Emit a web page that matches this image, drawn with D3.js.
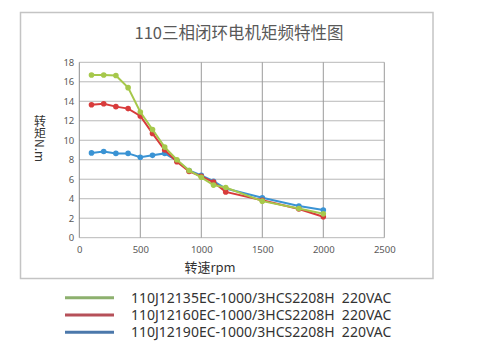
<!DOCTYPE html>
<html>
<head>
<meta charset="utf-8">
<script src="https://cdn.jsdelivr.net/npm/d3@7"></script>
<style>
  body { margin: 0; background: #fff; }
  svg { font-family: "Noto Sans CJK SC", "Noto Sans", sans-serif; }
</style>
</head>
<body>
<div id="chart"></div>
<script>
const speeds = [100, 200, 300, 400, 500, 600, 700, 800, 900, 1000, 1100, 1200, 1500, 1800, 2000];
const torque135 = [16.7, 16.7, 16.65, 15.4, 12.9, 11.1, 9.3, 8.0, 6.9, 6.2, 5.4, 5.15, 3.75, 3.0, 2.45];
const torque160 = [13.65, 13.75, 13.45, 13.25, 12.5, 10.7, 9.0, 7.8, 6.8, 6.3, 5.7, 4.7, 3.85, 2.95, 2.15];
const torque190 = [8.7, 8.85, 8.65, 8.65, 8.25, 8.45, 8.65, 7.9, 6.9, 6.4, 5.8, 5.05, 4.1, 3.25, 2.85];
const seriesNames = [
    '110J12135EC-1000/3HCS2208H  220VAC',
    '110J12160EC-1000/3HCS2208H  220VAC',
    '110J12190EC-1000/3HCS2208H  220VAC'
];
const xTicks = [0, 500, 1000, 1500, 2000, 2500];
const yTicks = [0, 2, 4, 6, 8, 10, 12, 14, 16, 18];

const series = [
    { name: seriesNames[0], values: torque135, color: '#a6c84b', legend: '#8db06e' },
    { name: seriesNames[1], values: torque160, color: '#d83b3b', legend: '#b65059' },
    { name: seriesNames[2], values: torque190, color: '#3a93d4', legend: '#4b78ab' }
];

const width = 497, height = 352;
const plot = { left: 79.3, right: 384.3, top: 62.3, bottom: 237.7 };

const svg = d3.select('#chart').append('svg')
    .attr('width', width)
    .attr('height', height);

// outer frame
svg.append('rect')
    .attr('x', 20.5).attr('y', 12.5)
    .attr('width', 412.5).attr('height', 266)
    .attr('fill', 'none')
    .attr('stroke', '#c4c4c4')
    .attr('stroke-width', 1.5);

svg.append('text')
    .attr('x', 239)
    .attr('y', 39)
    .attr('text-anchor', 'middle')
    .style('font-size', '16.5px')
    .attr('fill', '#595959')
    .text('110三相闭环电机矩频特性图');

const x = d3.scaleLinear().domain([0, 2500]).range([plot.left, plot.right]);
const y = d3.scaleLinear().domain([0, 18]).range([plot.bottom, plot.top]);

// grid
svg.append('g')
    .selectAll('line')
    .data(yTicks)
    .join('line')
    .attr('x1', plot.left).attr('x2', plot.right)
    .attr('y1', d => y(d)).attr('y2', d => y(d))
    .attr('stroke', '#b8b8b8')
    .attr('stroke-width', 1);

svg.append('g')
    .selectAll('line')
    .data(xTicks)
    .join('line')
    .attr('x1', d => x(d)).attr('x2', d => x(d))
    .attr('y1', plot.top).attr('y2', plot.bottom)
    .attr('stroke', d => d === 0 ? '#8c8c8c' : '#9a9a9a')
    .attr('stroke-width', 1);

svg.append('g')
    .attr('transform', `translate(0,${plot.bottom})`)
    .call(d3.axisBottom(x).tickValues(xTicks).tickFormat(d3.format('d')).tickSize(0).tickPadding(9))
    .call(g => g.select('.domain').remove())
    .call(g => g.selectAll('text')
        .attr('fill', '#595959')
        .style('font-size', '9.5px')
        .style('font-family', '"Noto Sans", sans-serif'));

svg.append('g')
    .attr('transform', `translate(${plot.left},0)`)
    .call(d3.axisLeft(y).tickValues(yTicks).tickSize(0).tickPadding(5))
    .call(g => g.select('.domain').remove())
    .call(g => g.selectAll('text')
        .attr('fill', '#595959')
        .style('font-size', '9.5px')
        .style('font-family', '"Noto Sans", sans-serif'));

// axis titles
svg.append('text')
    .attr('x', 210)
    .attr('y', 272)
    .attr('text-anchor', 'middle')
    .style('font-size', '13px')
    .attr('fill', '#333')
    .text('转速rpm');

// vertical title: CJK upright, latin turned, as in the original
svg.append('text')
    .attr('x', 40)
    .attr('y', 115)
    .attr('fill', '#333')
    .style('writing-mode', 'vertical-rl')
    .style('text-orientation', 'mixed')
    .style('font-size', '12px')
    .text('转矩N.m');

const line = d3.line()
    .x((d, i) => x(speeds[i]))
    .y(d => y(d));

// blue first so green sits on top
[...series].reverse().forEach(s => {
    svg.append('path')
        .datum(s.values)
        .attr('fill', 'none')
        .attr('stroke', s.color)
        .attr('stroke-width', 2)
        .attr('d', line);

    svg.append('g')
        .selectAll('circle')
        .data(s.values)
        .join('circle')
        .attr('cx', (d, i) => x(speeds[i]))
        .attr('cy', d => y(d))
        .attr('r', 2.8)
        .attr('fill', s.color);
});

// legend
const legend = svg.append('g')
    .selectAll('g')
    .data(series)
    .join('g')
    .attr('transform', (d, i) => `translate(0,${297.7 + i * 17.3})`);

legend.append('line')
    .attr('x1', 65).attr('x2', 114)
    .attr('stroke', d => d.legend)
    .attr('stroke-width', 3);

legend.append('text')
    .attr('x', 131)
    .attr('dy', '0.36em')
    .attr('fill', '#333')
    .style('font-family', '"Noto Sans", sans-serif')
    .style('font-size', '14px')
    .style('white-space', 'pre')
    .text(d => d.name);
</script>
</body>
</html>
